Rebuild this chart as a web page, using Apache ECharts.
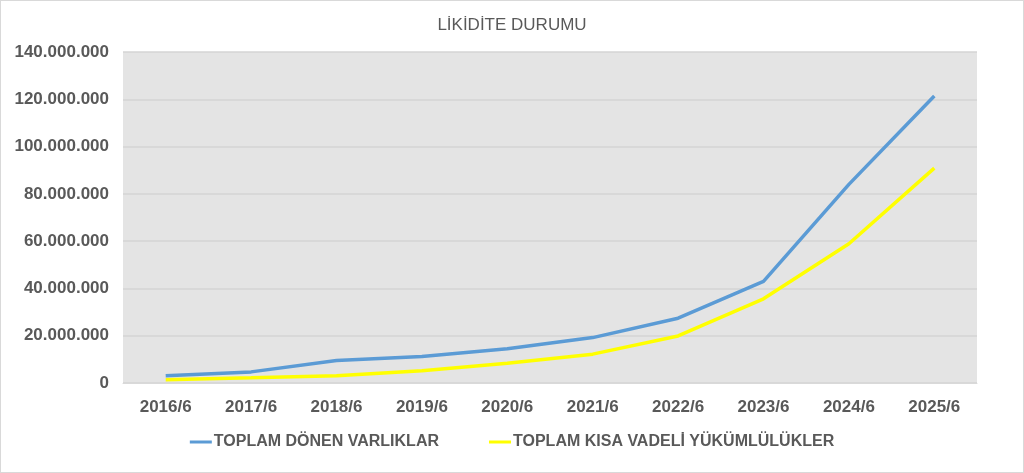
<!DOCTYPE html>
<html>
<head>
<meta charset="utf-8">
<script src="https://cdn.jsdelivr.net/npm/echarts@6/dist/echarts.min.js"></script>
<style>
html,body{margin:0;padding:0;background:#fff;}
#c{width:1024px;height:473px;box-sizing:border-box;border:1px solid #d9d9d9;}
</style>
</head>
<body>
<div id="c"></div>
<script>
const categories = ['2016/6','2017/6','2018/6','2019/6','2020/6','2021/6','2022/6','2023/6','2024/6','2025/6'];
const donenVarliklar = [3100000, 4700000, 9500000, 11200000, 14500000, 19200000, 27400000, 43000000, 84000000, 121400000];
const kisaVadeliYukumlulukler = [1400000, 2200000, 3100000, 5200000, 8400000, 12200000, 19900000, 35600000, 58900000, 90900000];
const seriesNames = ['TOPLAM DÖNEN VARLIKLAR', 'TOPLAM KISA VADELİ YÜKÜMLÜLÜKLER'];
const titleText = 'LİKİDİTE DURUMU';

const font = "'Liberation Sans', Arial, sans-serif";
const chart = echarts.init(document.getElementById('c'));
function fmt(v){
  return String(v).replace(/\B(?=(\d{3})+(?!\d))/g, '.');
}
chart.setOption({
  animation: false,
  backgroundColor: '#ffffff',
  title: {
    text: titleText, left: 'center', top: 11,
    textStyle: {fontFamily: font, fontSize: 17, fontWeight: 'normal', color: '#595959'}
  },
  legend: {
    bottom: 17, left: 'center', itemGap: 50, itemWidth: 22, itemHeight: 3,
    icon: 'rect',
    textStyle: {fontFamily: font, fontSize: 16, fontWeight: 'bold', color: '#595959', padding: [0,0,0,-3]},
    data: seriesNames
  },
  grid: {left: 122, right: 46, top: 51, bottom: 89, show: true, backgroundColor: '#e4e4e4', borderWidth: 0},
  xAxis: {
    type: 'category', data: categories, boundaryGap: true,
    axisLine: {show: true, lineStyle: {color: '#d9d9d9', width: 1}},
    axisTick: {show: false},
    axisLabel: {fontFamily: font, fontSize: 17, fontWeight: 'bold', color: '#595959', margin: 16}
  },
  yAxis: {
    type: 'value', min: 0, max: 140000000, interval: 20000000,
    axisLine: {show: false}, axisTick: {show: false},
    splitLine: {lineStyle: {color: '#d4d4d4', width: 1.5}},
    axisLabel: {fontFamily: font, fontSize: 17, fontWeight: 'bold', color: '#595959', margin: 14, formatter: fmt}
  },
  series: [
    {name: seriesNames[0], type: 'line', data: donenVarliklar, symbol: 'none',
     lineStyle: {color: '#5b9bd5', width: 3.5}, itemStyle: {color: '#5b9bd5'}},
    {name: seriesNames[1], type: 'line', data: kisaVadeliYukumlulukler, symbol: 'none',
     lineStyle: {color: '#ffff00', width: 3.5}, itemStyle: {color: '#ffff00'}}
  ]
});
</script>
</body>
</html>
